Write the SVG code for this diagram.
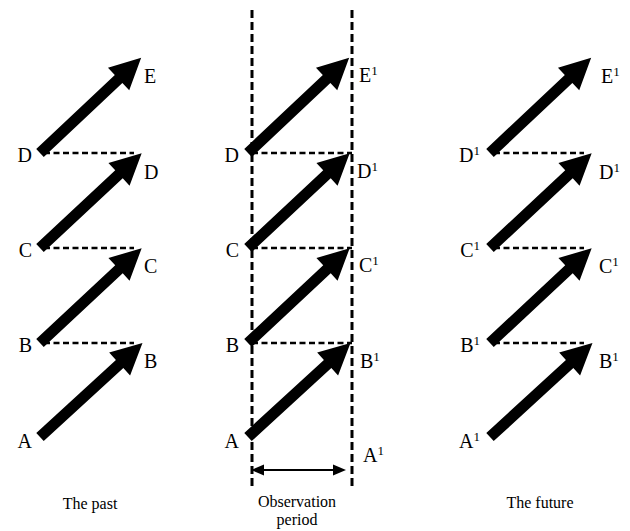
<svg xmlns="http://www.w3.org/2000/svg" xmlns:xlink="http://www.w3.org/1999/xlink" width="630" height="531" viewBox="0 0 630 531">
<style>
  text { font-family: 'Liberation Serif', 'Times New Roman', Times, serif; fill: #000; }
  .lbl { font-size: 20px; }
  .end { text-anchor: end; }
  .cap { font-size: 16px; text-anchor: middle; }
  .sup { font-size: 13px; }
  .hd { stroke: #000; stroke-width: 2.5; stroke-dasharray: 6 3.5; fill: none; }
  .vd { stroke: #000; stroke-width: 3; stroke-dasharray: 8 4; fill: none; }
</style>
<defs>
  <path id="arr" d="M0,-5.5 L108,-5.5 L108,-15.5 L139,0 L108,15.5 L108,5.5 L0,5.5 Z" fill="#000"/>
</defs>

<g id="connectors">
  <line class="vd" x1="252" y1="10" x2="252" y2="486"/>
  <line class="vd" x1="352" y1="10" x2="352" y2="486"/>
  <line class="hd" x1="44" y1="153" x2="134" y2="153"/>
  <line class="hd" x1="44" y1="248" x2="134" y2="248"/>
  <line class="hd" x1="44" y1="343" x2="134" y2="343"/>
  <line class="hd" x1="252" y1="153" x2="352" y2="153"/>
  <line class="hd" x1="252" y1="248" x2="352" y2="248"/>
  <line class="hd" x1="252" y1="343" x2="352" y2="343"/>
  <line class="hd" x1="494" y1="153" x2="584" y2="153"/>
  <line class="hd" x1="494" y1="248" x2="584" y2="248"/>
  <line class="hd" x1="494" y1="343" x2="584" y2="343"/>
  <use xlink:href="#arr" href="#arr" transform="translate(40,437) rotate(-42.5)"/>
  <use xlink:href="#arr" href="#arr" transform="translate(40,343) rotate(-43)"/>
  <use xlink:href="#arr" href="#arr" transform="translate(40,248) rotate(-43)"/>
  <use xlink:href="#arr" href="#arr" transform="translate(40,153) rotate(-43.3)"/>
  <use xlink:href="#arr" href="#arr" transform="translate(248,437) rotate(-42.5)"/>
  <use xlink:href="#arr" href="#arr" transform="translate(248,343) rotate(-43)"/>
  <use xlink:href="#arr" href="#arr" transform="translate(248,248) rotate(-43)"/>
  <use xlink:href="#arr" href="#arr" transform="translate(248,153) rotate(-43.3)"/>
  <use xlink:href="#arr" href="#arr" transform="translate(490,437) rotate(-42.5)"/>
  <use xlink:href="#arr" href="#arr" transform="translate(490,343) rotate(-43)"/>
  <use xlink:href="#arr" href="#arr" transform="translate(490,248) rotate(-43)"/>
  <use xlink:href="#arr" href="#arr" transform="translate(490,153) rotate(-43.3)"/>
  <line x1="258" y1="470" x2="340" y2="470" stroke="#000" stroke-width="2"/>
  <path d="M251,470 L264,464.5 L264,475.5 Z" fill="#000"/>
  <path d="M346,470 L333,464.5 L333,475.5 Z" fill="#000"/>
</g>

<g id="past">
  <text class="lbl" x="144" y="83">E</text>
  <text class="lbl" x="144" y="179">D</text>
  <text class="lbl" x="144" y="273">C</text>
  <text class="lbl" x="144" y="368">B</text>
  <text class="lbl end" x="32" y="162">D</text>
  <text class="lbl end" x="32" y="257">C</text>
  <text class="lbl end" x="32" y="352">B</text>
  <text class="lbl end" x="32" y="448">A</text>
  <text class="cap" x="90" y="509">The past</text>
</g>

<g id="observation">
  <text class="lbl" x="359" y="82">E<tspan class="sup" dy="-7">1</tspan></text>
  <text class="lbl" x="357" y="178">D<tspan class="sup" dy="-7">1</tspan></text>
  <text class="lbl" x="359" y="272">C<tspan class="sup" dy="-7">1</tspan></text>
  <text class="lbl" x="360" y="368">B<tspan class="sup" dy="-7">1</tspan></text>
  <text class="lbl" x="363" y="462">A<tspan class="sup" dy="-7">1</tspan></text>
  <text class="lbl end" x="239" y="162">D</text>
  <text class="lbl end" x="239" y="257">C</text>
  <text class="lbl end" x="239" y="352">B</text>
  <text class="lbl end" x="239" y="448">A</text>
  <text class="cap" x="297" y="507">Observation</text>
  <text class="cap" x="297" y="525">period</text>
</g>

<g id="future">
  <text class="lbl" x="601" y="83">E<tspan class="sup" dy="-7">1</tspan></text>
  <text class="lbl" x="599" y="179">D<tspan class="sup" dy="-7">1</tspan></text>
  <text class="lbl" x="599" y="273">C<tspan class="sup" dy="-7">1</tspan></text>
  <text class="lbl" x="599" y="368">B<tspan class="sup" dy="-7">1</tspan></text>
  <text class="lbl end" x="480" y="162">D<tspan class="sup" dy="-7">1</tspan></text>
  <text class="lbl end" x="480" y="257">C<tspan class="sup" dy="-7">1</tspan></text>
  <text class="lbl end" x="480" y="352">B<tspan class="sup" dy="-7">1</tspan></text>
  <text class="lbl end" x="480" y="448">A<tspan class="sup" dy="-7">1</tspan></text>
  <text class="cap" x="540" y="508">The future</text>
</g>
</svg>
